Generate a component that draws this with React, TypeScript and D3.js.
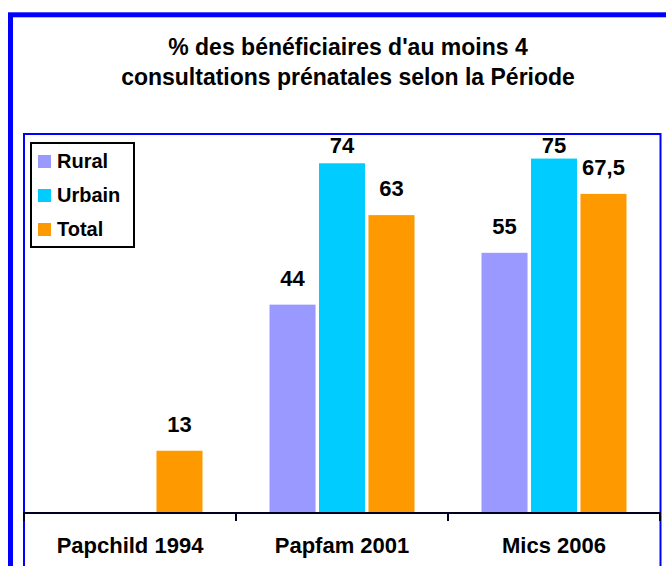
import React from "react";
import * as d3 from "d3";

// chart values
const categories = ["Papchild 1994", "Papfam 2001", "Mics 2006"];
const series = ["Rural", "Urbain", "Total"];
const rural: (number | null)[] = [null, 44, 55];
const urbain: (number | null)[] = [null, 74, 75];
const total: (number | null)[] = [13, 63, 67.5];
const labels: string[][] = [
  ["", "", "13"],
  ["44", "74", "63"],
  ["55", "75", "67,5"],
];
const colors = ["#9999FF", "#00CCFF", "#FF9900"];
const titleLines = ["% des bénéficiaires d'au moins 4", "consultations prénatales selon la Période"];

const W = 666;
const H = 566;
const font = "'Liberation Sans', Arial, Helvetica, sans-serif";

const App = () => {
  const plot = { left: 24, right: 660, top: 134, bottom: 512 };

  const x = d3.scaleBand().domain(categories).range([plot.left, plot.right]);
  const groupW = 145;
  const x1 = d3
    .scaleBand()
    .domain(series)
    .range([x.bandwidth() / 2 - groupW / 2, x.bandwidth() / 2 + groupW / 2])
    .paddingInner(0.07);
  const y = d3.scaleLinear().domain([0, 80]).range([plot.bottom, plot.top + 1]);

  const values = [rural, urbain, total];

  // one entry per bar
  const bars: { cat: string; s: string; v: number; label: string; color: string }[] = [];
  categories.forEach((c, ci) => {
    series.forEach((s, si) => {
      const v = values[si][ci];
      if (v != null) bars.push({ cat: c, s, v, label: labels[ci][si], color: colors[si] });
    });
  });

  const ticks = [...categories.map((c) => x(c)!), plot.right];

  return (
    <svg width={W} height={H} style={{ position: "absolute", left: 0, top: 0 }} fontFamily={font}>
      <rect x={0} y={0} width={W} height={H} fill="#fff" />
      {/* outer border */}
      <rect x={10.5} y={14.8} width={W + 20} height={H + 20} fill="none" stroke="#0000FF" strokeWidth={5} />
      {/* title */}
      {titleLines.map((t, i) => (
        <text key={i} x={348} y={55 + i * 30} textAnchor="middle" fontSize={23} fontWeight="bold" fill="#000">
          {t}
        </text>
      ))}
      {/* plot area border */}
      <rect x={plot.left} y={plot.top} width={plot.right - plot.left + 0.5} height={H} fill="none" stroke="#0000FF" strokeWidth={2} />

      {/* bars */}
      {bars.map((b, i) => {
        const bx = x(b.cat)! + x1(b.s)!;
        const top = y(b.v);
        const ly = Math.max(top - 19, 153);
        return (
          <g key={i}>
            <rect x={bx} y={top} width={x1.bandwidth()} height={plot.bottom - top} fill={b.color} />
            <text x={bx + x1.bandwidth() / 2} y={ly} textAnchor="middle" fontSize={22} fontWeight="bold" fill="#000">
              {b.label}
            </text>
          </g>
        );
      })}

      {/* x axis */}
      <line x1={plot.left} x2={plot.right} y1={plot.bottom + 1} y2={plot.bottom + 1} stroke="#000022" strokeWidth={2} />
      {ticks.map((t, i) => (
        <line key={i} x1={t} x2={t} y1={plot.bottom} y2={plot.bottom + 9} stroke="#000022" strokeWidth={2} />
      ))}
      {categories.map((c) => (
        <text key={c} x={x(c)! + x.bandwidth() / 2} y={553} textAnchor="middle" fontSize={22} fontWeight="bold" fill="#000">
          {c}
        </text>
      ))}

      {/* legend */}
      <rect x={31} y={143} width={103} height={104} fill="#fff" stroke="#000" strokeWidth={2} />
      {series.map((s, i) => (
        <g key={s} transform={`translate(38,${155 + i * 34})`}>
          <rect x={0} y={0} width={13} height={13} fill={colors[i]} />
          <text x={19} y={13} fontSize={20} fontWeight="bold" fill="#000">
            {s}
          </text>
        </g>
      ))}
    </svg>
  );
};

export default App;
